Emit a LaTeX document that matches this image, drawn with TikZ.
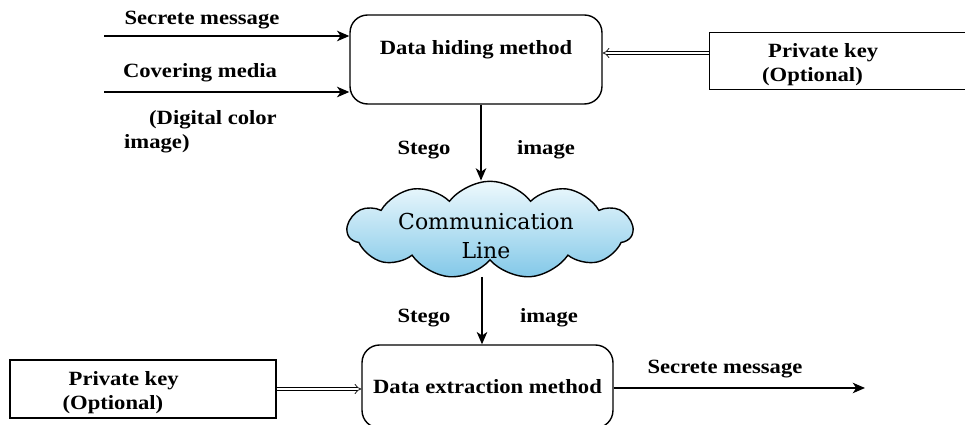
\documentclass[tikz,border=0pt]{standalone}
\usepackage{fontspec}
\setmainfont{Liberation Serif}[FakeStretch=1.12]
\newfontfamily\cloudfont{DejaVu Serif}
\usetikzlibrary{shapes.symbols,arrows.meta,positioning}
\definecolor{cloudtop}{RGB}{238,249,253}
\definecolor{cloudbot}{RGB}{130,200,232}

\begin{document}
\begin{tikzpicture}[
    x=0.02cm, y=-0.02cm,
    every node/.style={font=\fontsize{11.5}{14}\selectfont\bfseries},
    method/.style={rectangle, draw, thick, rounded corners=10pt, minimum width=5.04cm, minimum height=1.78cm},
    keybox/.style={rectangle, draw, semithick, minimum width=5.3cm, minimum height=1.14cm},
    keytext/.style={anchor=west, align=left, xshift=0.94cm, yshift=-0.07cm},
    arrow/.style={->, >={Stealth[length=7pt, width=6pt, inset=2pt]}, thick},
    keyarrow/.style={double, double distance=1.6pt, -{Implies}},
    comm/.style={cloud, cloud puffs=11, cloud puff arc=105, aspect=2.8, draw, thick, inner sep=0pt, top color=cloudtop, bottom color=cloudbot, minimum width=5.7cm, minimum height=1.95cm},
    commtext/.style={align=center, font=\cloudfont\fontsize{12.5}{16}\selectfont}
]
\useasboundingbox (0,0) rectangle (965,425);

% Hiding side (top)
\node[method] (hiding) at (476,59.5) {};
\node (hiding-text) at ([yshift=0.2cm]hiding.center) {Data hiding method};
\node[keybox] (key-top) at (842,61) {};
\node[keytext] (key-top-text) at (key-top.west) {\hspace*{0.12cm}Private key\\(Optional)};

\coordinate (secret-in) at (104,36);
\coordinate (cover-in) at (104,92);
\node (secret-label) at (202,20) {Secrete message};
\node (cover-label) at (200,73) {Covering media};
\node[anchor=north west, align=left] (cover-note) at (118,104) {\hspace*{0.5cm}(Digital color\\image)};

\draw[arrow] (secret-in) -- (secret-in -| hiding.west);
\draw[arrow] (cover-in) -- (cover-in -| hiding.west);
\coordinate (key-top-out) at ([yshift=0.16cm]key-top.west);
\draw[keyarrow] (key-top-out) -- (key-top-out -| hiding.east);

% Channel
\node[comm] (channel) at (490,230) {};
\node[commtext] (channel-text) at (486,236) {Communication\\Line};
\coordinate (stego-top) at ([xshift=0.1cm]hiding.south);
\draw[arrow] (stego-top) -- (stego-top |- channel.north);
\node (stego-a) at (424,150) {Stego};
\node (image-a) at (546,150) {image};

% Extraction side (bottom)
\node[method, minimum width=5.02cm, minimum height=1.66cm] (extraction) at (487.5,386.5) {Data extraction method};
\node[keybox, minimum width=5.32cm, minimum height=1.16cm] (key-bottom) at (143,389) {};
\node[keytext] (key-bottom-text) at (key-bottom.west) {\hspace*{0.12cm}Private key\\(Optional)};

\coordinate (stego-bottom) at (482,277);
\draw[arrow] (stego-bottom) -- (stego-bottom |- extraction.north);
\node (stego-b) at (424,318) {Stego};
\node (image-b) at (549,318) {image};

\draw[keyarrow] (key-bottom.east) -- (key-bottom.east -| extraction.west);
\coordinate (secret-out) at (865,388);
\draw[arrow] (extraction.east |- secret-out) -- (secret-out);
\node (secret-out-label) at (725,369) {Secrete message};

\end{tikzpicture}
\end{document}
